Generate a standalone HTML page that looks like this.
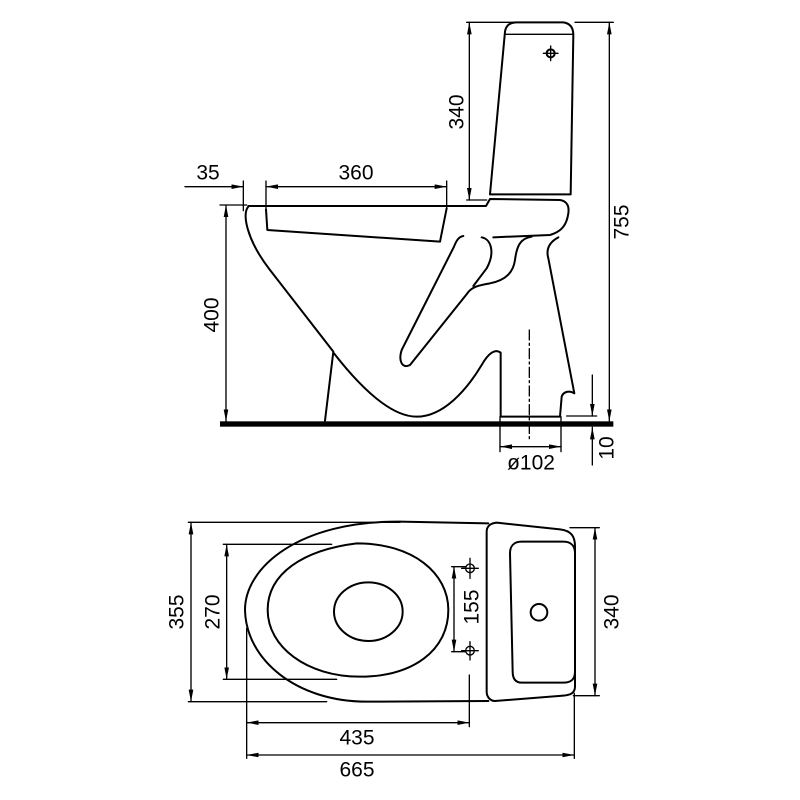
<!DOCTYPE html>
<html><head><meta charset="utf-8"><style>html,body{margin:0;padding:0;background:#fff}svg{display:block}</style></head>
<body>
<svg width="800" height="800" viewBox="0 0 800 800" xmlns="http://www.w3.org/2000/svg">
<defs>
<marker id="a" viewBox="0 0 36 14" refX="36" refY="7" markerWidth="36" markerHeight="14" markerUnits="userSpaceOnUse" orient="auto-start-reverse"><path d="M0,0 L36,7 L0,14 Z" fill="#000"/></marker>
</defs>
<g transform="translate(180,0) scale(0.33333)" fill="none" stroke="#000" stroke-width="6" stroke-linejoin="round" stroke-linecap="round">
<!-- floor -->
<rect x="120" y="1264" width="1180" height="16" fill="#000" stroke="none"/>
<!-- tank -->
<path d="M930,583 L975,95 C978,75 990,67 1010,67 L1150,67 C1172,70 1180,85 1180,105 L1172,583 Z"/>
<path d="M978,103 L1178,103" stroke-width="4"/>
<circle cx="1112" cy="160" r="12"/><path d="M1112,138 L1112,182 M1090,160 L1134,160" stroke-width="4"/>
<!-- rim -->
<path d="M205,618 L918,618 L930,597 L1140,600 C1162,603 1168,620 1165,640 C1160,675 1145,695 1110,705 L940,712"/>
<!-- seat -->
<path d="M258,628 L262,690 L780,725 L800,625"/>
<!-- bowl outer -->
<path d="M205,620 C185,640 200,720 270,810 L460,1055 L435,1262"/>
<!-- trap bottom and foot -->
<path d="M462,1060 C540,1160 630,1250 710,1250 C790,1250 860,1170 905,1095 C925,1060 945,1045 962,1058 L962,1250 L1140,1250 L1145,1190 C1150,1175 1168,1170 1183,1180 L1105,775 C1098,750 1105,728 1135,712"/>
<!-- trapway -->
<path d="M850,708 C835,710 828,725 822,740 L665,1050 C655,1080 665,1108 690,1095 L862,880 C875,860 900,855 930,850 C980,840 1000,815 1005,780 C1010,740 1020,715 1055,710"/>
<path d="M905,712 C935,718 945,760 920,805 L880,858"/>
<!-- centerline -->
<path d="M1048,990 L1048,1320" stroke-width="4" stroke-dasharray="30,10,6,10"/>
<!-- dims -->
<g stroke-width="4">
<path d="M860,67 L1005,67 M860,600 L920,600"/>
<path d="M868,67 L868,600" marker-start="url(#a)" marker-end="url(#a)"/>
<path d="M1185,67 L1300,67"/>
<path d="M1288,67 L1288,1264" marker-start="url(#a)" marker-end="url(#a)"/>
<path d="M15,560 L190,560" marker-end="url(#a)"/>
<path d="M258,560 L800,560" marker-start="url(#a)" marker-end="url(#a)"/>
<path d="M190,543 L190,632 M258,543 L258,625 M800,543 L800,625"/>
<path d="M120,615 L200,615"/>
<path d="M138,615 L138,1264" marker-start="url(#a)" marker-end="url(#a)"/>
<path d="M960,1250 L960,1355 M1143,1250 L1143,1355"/>
<path d="M960,1340 L1143,1340" marker-start="url(#a)" marker-end="url(#a)"/>
<path d="M1160,1248 L1250,1248"/>
<path d="M1237,1125 L1237,1248" marker-end="url(#a)"/>
<path d="M1237,1395 L1237,1282" marker-end="url(#a)"/>
</g>
</g>
<g transform="translate(160,500) scale(0.33333)" fill="none" stroke="#000" stroke-width="6" stroke-linejoin="round" stroke-linecap="round">
<path d="M985,70 L720,65 C420,62 255,200 255,330 C258,480 410,605 620,605 L985,603"/>
<path d="M590,130 C760,130 865,220 865,330 C865,450 760,530 600,530 C440,530 323,440 323,330 C323,220 430,150 590,130 Z"/>
<ellipse cx="625" cy="335" rx="103" ry="88"/>
<path d="M1010,68 L1200,88 C1235,92 1245,110 1245,140 L1245,560 C1245,580 1230,585 1210,587 L1005,603 C990,603 980,590 980,575 L980,95 C980,80 990,70 1010,68 Z"/>
<path d="M1085,125 L1210,125 C1235,125 1245,140 1245,160 L1245,515 C1245,540 1232,548 1210,548 L1085,548 C1065,548 1058,535 1058,515 L1050,160 C1050,140 1060,125 1085,125 Z"/>
<circle cx="1137" cy="337" r="25"/>
<g stroke-width="4">
<circle cx="930" cy="205" r="13"/><path d="M930,175 L930,235 M905,205 L955,205"/>
<circle cx="930" cy="452" r="13"/><path d="M930,425 L930,480 M905,452 L955,452"/>
<path d="M875,200 L915,200 M875,455 L915,455"/>
<path d="M882,200 L882,455" marker-start="url(#a)" marker-end="url(#a)"/>
<path d="M85,67 L720,67 M85,605 L500,605"/>
<path d="M93,67 L93,605" marker-start="url(#a)" marker-end="url(#a)"/>
<path d="M190,133 L515,133 M190,538 L530,538"/>
<path d="M200,133 L200,538" marker-start="url(#a)" marker-end="url(#a)"/>
<path d="M1230,83 L1318,83 M1240,587 L1318,587"/>
<path d="M1305,83 L1305,587" marker-start="url(#a)" marker-end="url(#a)"/>
<path d="M260,385 L260,775 M928,525 L928,680 M1243,580 L1243,775"/>
<path d="M260,668 L928,668" marker-start="url(#a)" marker-end="url(#a)"/>
<path d="M260,765 L1243,765" marker-start="url(#a)" marker-end="url(#a)"/>
</g>
</g>
<g font-family="Liberation Sans, sans-serif" font-size="21" fill="#000" text-anchor="middle" dominant-baseline="central">
<text x="208" y="173">35</text>
<text x="356" y="173">360</text>
<text transform="translate(457,112) rotate(-90)">340</text>
<text transform="translate(212,315) rotate(-90)">400</text>
<text transform="translate(622,222) rotate(-90)">755</text>
<text x="531" y="463">ø102</text>
<text transform="translate(607,448) rotate(-90)">10</text>
<text transform="translate(177,612) rotate(-90)">355</text>
<text transform="translate(213,612) rotate(-90)">270</text>
<text transform="translate(472,607) rotate(-90)">155</text>
<text transform="translate(612,612) rotate(-90)">340</text>
<text x="357" y="738">435</text>
<text x="357" y="770">665</text>
</g>
</svg>
</body></html>
